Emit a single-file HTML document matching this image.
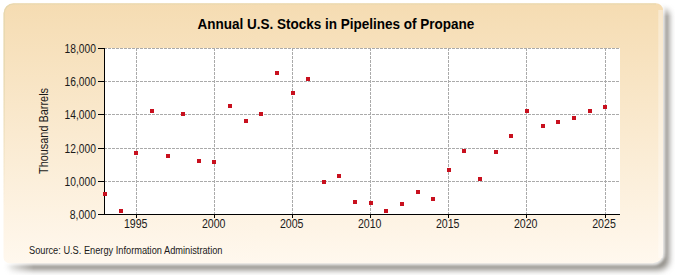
<!DOCTYPE html><html><head><meta charset="utf-8"><style>
html,body{margin:0;padding:0;width:675px;height:275px;overflow:hidden;background:#fff}
svg{display:block}
.t{font-family:"Liberation Sans",sans-serif;font-size:12.5px;fill:#1a1a1a}
</style></head><body>
<svg width="675" height="275" viewBox="0 0 675 275">
<defs>
<linearGradient id="bg" x1="0" y1="0" x2="0" y2="1">
<stop offset="0" stop-color="#f5dcb2"/><stop offset="1" stop-color="#fff8ee"/>
</linearGradient>
<filter id="sh" x="-5%" y="-10%" width="110%" height="120%"><feGaussianBlur stdDeviation="3"/></filter>
<filter id="glow" x="-5%" y="-10%" width="110%" height="120%"><feGaussianBlur stdDeviation="1.5"/></filter>
<filter id="soft" x="-2%" y="-2%" width="104%" height="104%"><feGaussianBlur stdDeviation="0.6"/></filter>
<linearGradient id="mh" x1="0" y1="0" x2="675" y2="0" gradientUnits="userSpaceOnUse"><stop offset="0.004" stop-color="#000"/><stop offset="0.05" stop-color="#fff"/></linearGradient>
<linearGradient id="mv" x1="0" y1="0" x2="0" y2="275" gradientUnits="userSpaceOnUse"><stop offset="0.012" stop-color="#000"/><stop offset="0.06" stop-color="#fff"/></linearGradient>
<mask id="mh1" maskUnits="userSpaceOnUse" x="0" y="0" width="675" height="275"><rect width="675" height="275" fill="url(#mh)"/></mask>
<mask id="shm" maskUnits="userSpaceOnUse" x="0" y="0" width="675" height="275"><rect width="675" height="275" fill="url(#mv)" mask="url(#mh1)"/></mask>
<linearGradient id="eg" x1="0" y1="0" x2="0" y2="275" gradientUnits="userSpaceOnUse"><stop offset="0" stop-color="#e2d6ae"/><stop offset="0.25" stop-color="#e2d6ae"/><stop offset="0.75" stop-color="#e2d6ae" stop-opacity="0"/></linearGradient>
</defs>
<g mask="url(#shm)"><path d="M16,6 H662 A7,7 0 0 1 669,13 V260 A10,10 0 0 1 659,270 H12 A6,6 0 0 1 6,264 V16 A10,10 0 0 1 16,6 Z" fill="#8b8882" filter="url(#sh)"/></g>
<path d="M13.5,3.3 H656 A7,7 0 0 1 663,10.3 V253.3 A10,10 0 0 1 653,263.3 H9.5 A6,6 0 0 1 3.5,257.3 V13.3 A10,10 0 0 1 13.5,3.3 Z" fill="none" stroke="#fff" stroke-width="4" opacity="0.9" filter="url(#glow)"/>
<path d="M13.5,3.3 H656 A7,7 0 0 1 663,10.3 V253.3 A10,10 0 0 1 653,263.3 H9.5 A6,6 0 0 1 3.5,257.3 V13.3 A10,10 0 0 1 13.5,3.3 Z" fill="url(#bg)" filter="url(#soft)"/>
<rect x="658.3" y="10" width="4.5" height="248" fill="#fff" opacity="0.35" filter="url(#soft)"/>
<path d="M4.2,257 V13.3 A9.3,9.3 0 0 1 13.5,4 H656" fill="none" stroke="url(#eg)" stroke-width="1.2" opacity="0.8" filter="url(#soft)"/>
<rect x="104" y="48" width="516" height="166" fill="#fff"/>
<line x1="104" y1="48.5" x2="620" y2="48.5" stroke="#aaaaaa" stroke-dasharray="3,1"/>
<line x1="104" y1="81.5" x2="620" y2="81.5" stroke="#aaaaaa" stroke-dasharray="3,1"/>
<line x1="104" y1="114.5" x2="620" y2="114.5" stroke="#aaaaaa" stroke-dasharray="3,1"/>
<line x1="104" y1="148.5" x2="620" y2="148.5" stroke="#aaaaaa" stroke-dasharray="3,1"/>
<line x1="104" y1="181.5" x2="620" y2="181.5" stroke="#aaaaaa" stroke-dasharray="3,1"/>
<line x1="136.5" y1="48" x2="136.5" y2="214" stroke="#aaaaaa" stroke-dasharray="3,1"/>
<line x1="214.5" y1="48" x2="214.5" y2="214" stroke="#aaaaaa" stroke-dasharray="3,1"/>
<line x1="292.5" y1="48" x2="292.5" y2="214" stroke="#aaaaaa" stroke-dasharray="3,1"/>
<line x1="370.5" y1="48" x2="370.5" y2="214" stroke="#aaaaaa" stroke-dasharray="3,1"/>
<line x1="448.5" y1="48" x2="448.5" y2="214" stroke="#aaaaaa" stroke-dasharray="3,1"/>
<line x1="526.5" y1="48" x2="526.5" y2="214" stroke="#aaaaaa" stroke-dasharray="3,1"/>
<line x1="605.5" y1="48" x2="605.5" y2="214" stroke="#aaaaaa" stroke-dasharray="3,1"/>
<line x1="104.5" y1="48" x2="104.5" y2="215" stroke="#000"/>
<line x1="104" y1="214.5" x2="620" y2="214.5" stroke="#000"/>
<line x1="98" y1="48.5" x2="104" y2="48.5" stroke="#000"/>
<text x="64.6" y="53" textLength="31.4" lengthAdjust="spacingAndGlyphs" class="t">18,000</text>
<line x1="98" y1="81.5" x2="104" y2="81.5" stroke="#000"/>
<text x="64.6" y="86" textLength="31.4" lengthAdjust="spacingAndGlyphs" class="t">16,000</text>
<line x1="98" y1="114.5" x2="104" y2="114.5" stroke="#000"/>
<text x="64.6" y="119" textLength="31.4" lengthAdjust="spacingAndGlyphs" class="t">14,000</text>
<line x1="98" y1="148.5" x2="104" y2="148.5" stroke="#000"/>
<text x="64.6" y="153" textLength="31.4" lengthAdjust="spacingAndGlyphs" class="t">12,000</text>
<line x1="98" y1="181.5" x2="104" y2="181.5" stroke="#000"/>
<text x="64.6" y="186" textLength="31.4" lengthAdjust="spacingAndGlyphs" class="t">10,000</text>
<line x1="98" y1="214.5" x2="104" y2="214.5" stroke="#000"/>
<text x="69.8" y="219" textLength="26.2" lengthAdjust="spacingAndGlyphs" class="t">8,000</text>
<line x1="136.5" y1="214" x2="136.5" y2="218" stroke="#000"/>
<text x="123.9" y="228" textLength="23.6" lengthAdjust="spacingAndGlyphs" class="t">1995</text>
<line x1="214.5" y1="214" x2="214.5" y2="218" stroke="#000"/>
<text x="201.9" y="228" textLength="23.6" lengthAdjust="spacingAndGlyphs" class="t">2000</text>
<line x1="292.5" y1="214" x2="292.5" y2="218" stroke="#000"/>
<text x="279.9" y="228" textLength="23.6" lengthAdjust="spacingAndGlyphs" class="t">2005</text>
<line x1="370.5" y1="214" x2="370.5" y2="218" stroke="#000"/>
<text x="357.9" y="228" textLength="23.6" lengthAdjust="spacingAndGlyphs" class="t">2010</text>
<line x1="448.5" y1="214" x2="448.5" y2="218" stroke="#000"/>
<text x="435.9" y="228" textLength="23.6" lengthAdjust="spacingAndGlyphs" class="t">2015</text>
<line x1="526.5" y1="214" x2="526.5" y2="218" stroke="#000"/>
<text x="513.9" y="228" textLength="23.6" lengthAdjust="spacingAndGlyphs" class="t">2020</text>
<line x1="605.5" y1="214" x2="605.5" y2="218" stroke="#000"/>
<text x="592.2" y="228" textLength="23.6" lengthAdjust="spacingAndGlyphs" class="t">2025</text>
<rect x="103" y="192" width="4" height="4" fill="#c8101e"/>
<rect x="119" y="209" width="4" height="4" fill="#c8101e"/>
<rect x="134" y="151" width="4" height="4" fill="#c8101e"/>
<rect x="150" y="109" width="4" height="4" fill="#c8101e"/>
<rect x="166" y="154" width="4" height="4" fill="#c8101e"/>
<rect x="181" y="112" width="4" height="4" fill="#c8101e"/>
<rect x="197" y="159" width="4" height="4" fill="#c8101e"/>
<rect x="212" y="160" width="4" height="4" fill="#c8101e"/>
<rect x="228" y="104" width="4" height="4" fill="#c8101e"/>
<rect x="244" y="119" width="4" height="4" fill="#c8101e"/>
<rect x="259" y="112" width="4" height="4" fill="#c8101e"/>
<rect x="275" y="71" width="4" height="4" fill="#c8101e"/>
<rect x="291" y="91" width="4" height="4" fill="#c8101e"/>
<rect x="306" y="77" width="4" height="4" fill="#c8101e"/>
<rect x="322" y="180" width="4" height="4" fill="#c8101e"/>
<rect x="337" y="174" width="4" height="4" fill="#c8101e"/>
<rect x="353" y="200" width="4" height="4" fill="#c8101e"/>
<rect x="369" y="201" width="4" height="4" fill="#c8101e"/>
<rect x="384" y="209" width="4" height="4" fill="#c8101e"/>
<rect x="400" y="202" width="4" height="4" fill="#c8101e"/>
<rect x="416" y="190" width="4" height="4" fill="#c8101e"/>
<rect x="431" y="197" width="4" height="4" fill="#c8101e"/>
<rect x="447" y="168" width="4" height="4" fill="#c8101e"/>
<rect x="462" y="149" width="4" height="4" fill="#c8101e"/>
<rect x="478" y="177" width="4" height="4" fill="#c8101e"/>
<rect x="494" y="150" width="4" height="4" fill="#c8101e"/>
<rect x="509" y="134" width="4" height="4" fill="#c8101e"/>
<rect x="525" y="109" width="4" height="4" fill="#c8101e"/>
<rect x="541" y="124" width="4" height="4" fill="#c8101e"/>
<rect x="556" y="120" width="4" height="4" fill="#c8101e"/>
<rect x="572" y="116" width="4" height="4" fill="#c8101e"/>
<rect x="588" y="109" width="4" height="4" fill="#c8101e"/>
<rect x="603" y="105" width="4" height="4" fill="#c8101e"/>
<text x="197.4" y="29" textLength="277" lengthAdjust="spacingAndGlyphs" style='font-family:"Liberation Sans",sans-serif;font-size:14px;font-weight:bold;fill:#000'>Annual U.S. Stocks in Pipelines of Propane</text>
<text transform="translate(48,174) rotate(-90)" textLength="86" lengthAdjust="spacingAndGlyphs" style='font-family:"Liberation Sans",sans-serif;font-size:12px;fill:#1a1a1a'>Thousand Barrels</text>
<text x="29" y="254" textLength="193.5" lengthAdjust="spacingAndGlyphs" style='font-family:"Liberation Sans",sans-serif;font-size:10px;fill:#1a1a1a'>Source: U.S. Energy Information Administration</text>
</svg></body></html>
